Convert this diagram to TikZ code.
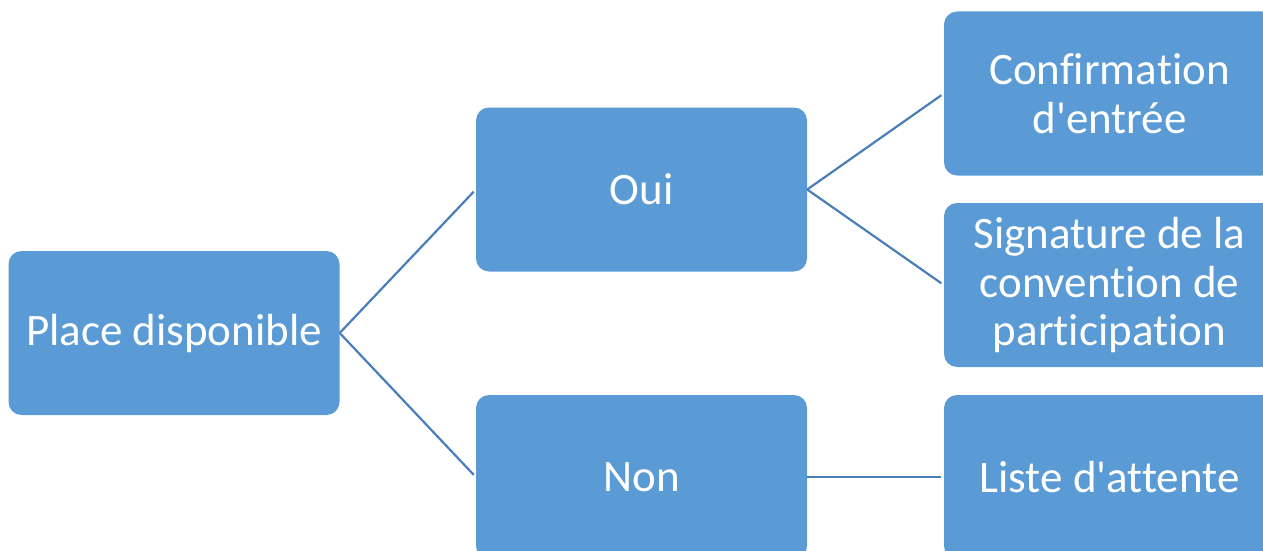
\documentclass[tikz,border=0pt]{standalone}
\usepackage{fontspec}
\setmainfont{Carlito}[Ligatures=NoCommon]
\definecolor{boxblue}{HTML}{5B9BD5}
\definecolor{linkblue}{HTML}{4A7EBB}
\begin{document}
\begin{tikzpicture}[x=1pt,y=-1pt,
  box/.style={rectangle, rounded corners=13pt, fill=boxblue, draw=none,
    minimum width=331pt, minimum height=164pt, inner sep=0pt,
    text=white, align=center, font=\fontsize{45}{48.5}\selectfont},
  link/.style={draw=linkblue, line width=2.2pt, shorten >=3pt}]
\useasboundingbox (0,0) rectangle (1263,551);
\node[box] (place) at (174,333) {Place disponible};
\node[box] (oui) at (641.5,189.5) {Oui};
\node[box] (non) at (641.5,477) {Non};
\node[box] (conf) at (1109.5,93.5) {Confirmation\\d\textquotesingle entrée};
\node[box] (sig) at (1109.5,285) {Signature de la\\convention de\\participation};
\node[box] (liste) at (1109.5,477) {Liste d\textquotesingle attente};
\draw[link] (place.east) -- (oui.west);
\draw[link] (place.east) -- (non.west);
\draw[link] (oui.east) -- (conf.west);
\draw[link] (oui.east) -- (sig.west);
\draw[link] (non.east) -- (liste.west);
\end{tikzpicture}
\end{document}
